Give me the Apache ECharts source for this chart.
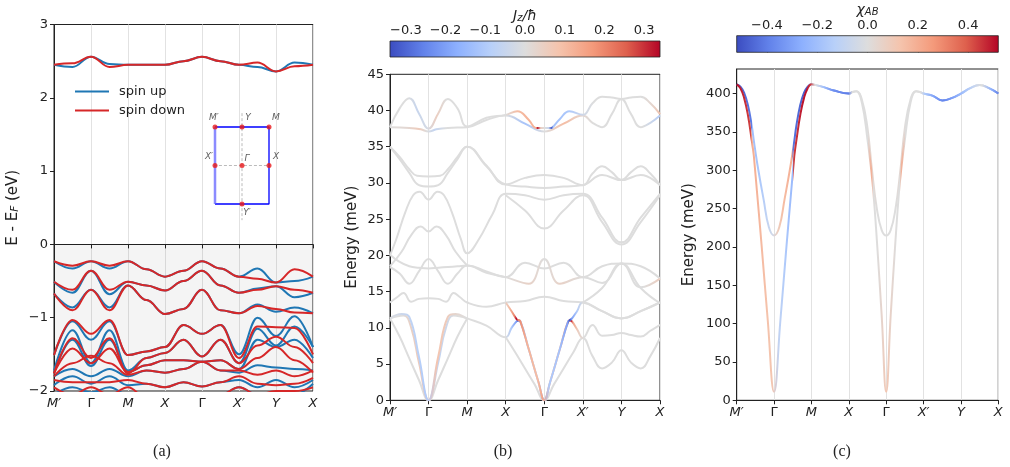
<!DOCTYPE html>
<html><head><meta charset="utf-8">
<script src="https://cdn.jsdelivr.net/npm/echarts@6/dist/echarts.min.js"></script>
<style>html,body{margin:0;padding:0;background:#fff}#c{width:1010px;height:467px}</style>
</head><body><div id="c"></div><script>
// ---------- shared ----------
const kLabels = ['M′','Γ','M','X','Γ','X′','Y','X'];
const aYTicks = [-2,-1,0,1,2,3];
const bYTicks = [0,5,10,15,20,25,30,35,40,45];
const cYTicks = [0,50,100,150,200,250,300,350,400];
const bCbarTicks = [-0.3,-0.2,-0.1,0,0.1,0.2,0.3];
const cCbarTicks = [-0.4,-0.2,0,0.2,0.4];
const bCbarRange = [-0.34,0.34];
const cCbarRange = [-0.52,0.52];

// ---------- panel (a): electronic bands, k = 0..7 in half steps ----------
const aK = [0,0.5,1,1.5,2,2.5,3,3.5,4,4.5,5,5.5,6,6.5,7];
const aUpConduction   = [2.45,2.42,2.56,2.46,2.45,2.45,2.45,2.50,2.56,2.50,2.45,2.42,2.36,2.48,2.45];
const aDownConduction = [2.45,2.47,2.56,2.42,2.45,2.45,2.45,2.50,2.56,2.50,2.45,2.48,2.36,2.43,2.45];
const aUpValence = [
  [-0.23,-0.33,-0.23,-0.33,-0.23,-0.34,-0.44,-0.36,-0.23,-0.33,-0.44,-0.33,-0.52,-0.50,-0.44],
  [-0.51,-0.66,-0.36,-0.68,-0.51,-0.56,-0.63,-0.50,-0.36,-0.56,-0.66,-0.60,-0.57,-0.72,-0.66],
  [-0.67,-0.86,-0.62,-0.86,-0.56,-0.76,-0.95,-0.88,-0.62,-0.90,-0.94,-0.82,-0.92,-0.86,-0.94],
  [-1.51,-1.05,-1.30,-1.05,-1.51,-1.46,-1.40,-1.10,-1.22,-1.10,-1.50,-1.00,-1.25,-0.98,-1.40],
  [-1.72,-1.17,-1.62,-1.17,-1.72,-1.55,-1.48,-1.30,-1.53,-1.30,-1.62,-1.15,-1.38,-1.12,-1.40],
  [-1.76,-1.30,-1.66,-1.30,-1.74,-1.65,-1.58,-1.58,-1.60,-1.58,-1.70,-1.30,-1.40,-1.30,-1.55],
  [-1.80,-1.70,-1.80,-1.70,-1.80,-1.72,-1.75,-1.70,-1.60,-1.72,-1.75,-1.65,-1.68,-1.70,-1.72],
  [-1.92,-1.80,-1.90,-1.80,-1.92,-1.90,-1.95,-1.88,-1.94,-1.88,-1.85,-1.95,-1.85,-1.95,-1.85],
  [-2.05,-1.95,-2.02,-1.95,-2.05,-2.10,-2.10,-2.05,-2.10,-2.05,-1.95,-2.05,-2.05,-2.05,-1.90]
];
const aDownValence = [
  [-0.23,-0.29,-0.23,-0.29,-0.23,-0.34,-0.44,-0.36,-0.23,-0.33,-0.44,-0.47,-0.52,-0.34,-0.44],
  [-0.51,-0.62,-0.36,-0.62,-0.51,-0.56,-0.63,-0.50,-0.36,-0.56,-0.66,-0.62,-0.57,-0.62,-0.66],
  [-0.67,-0.90,-0.62,-0.90,-0.56,-0.76,-0.95,-0.88,-0.62,-0.90,-0.94,-0.84,-0.88,-0.93,-0.94],
  [-1.51,-1.03,-1.22,-1.03,-1.51,-1.46,-1.40,-1.10,-1.22,-1.10,-1.55,-1.12,-1.13,-1.14,-1.50],
  [-1.76,-1.28,-1.55,-1.28,-1.76,-1.55,-1.48,-1.30,-1.53,-1.30,-1.62,-1.38,-1.26,-1.40,-1.62],
  [-1.76,-1.42,-1.62,-1.42,-1.74,-1.65,-1.58,-1.58,-1.60,-1.58,-1.70,-1.55,-1.40,-1.58,-1.75],
  [-1.80,-1.62,-1.52,-1.62,-1.78,-1.72,-1.75,-1.70,-1.60,-1.72,-1.72,-1.78,-1.72,-1.80,-1.72],
  [-1.85,-1.88,-1.88,-1.88,-1.85,-1.90,-1.95,-1.88,-1.94,-1.88,-1.80,-1.90,-1.92,-1.90,-1.82],
  [-1.95,-2.05,-1.95,-2.05,-1.95,-2.10,-2.10,-2.05,-2.10,-2.05,-1.95,-2.05,-2.00,-2.00,-1.95]
];
// Brillouin-zone inset
const bzNames = ['M′','Y','M','X′','Γ','X','Y′'];
const bzCoords = [[-1,1],[0,1],[1,1],[-1,0],[0,0],[1,0],[0,-1]];

// ---------- panel (b): magnon bands [k, E(meV), Jz] ----------
const bGray1 = [[0,11.3],[0.25,8.8],[0.5,5.8],[0.75,2.8],[1,0],[1.25,2.8],[1.5,5.8],[1.75,8.8],[2,11.3]];
const bGray2 = [[3,8.7],[3.25,6.6],[3.5,4.4],[3.75,2.2],[4,0],[4.25,2.2],[4.5,4.4],[4.75,6.6],[5,8.6],[5.25,6.1],[5.5,4.4],[5.75,5.2],[6,6.9],[6.25,5.2],[6.5,4.4],[6.75,6.1],[7,8.6]];
const bE1 = [[0,13.5],[0.2,14.3],[0.35,14.8],[0.55,13.6],[0.75,14.0],[1,14.1],[1.25,14.0],[1.45,13.6],[1.65,14.8],[1.8,14.3],[2,13.5],[2.5,12.9],[3,13.5],[3.5,13.7],[4,14.3],[4.5,13.7],[5,13.5],[5.5,12.3],[6,11.3],[6.5,12.3],[7,13.5]];
const bE2 = [[5,13.5],[5.5,15.5],[6,18.9],[6.5,15.5],[7,13.4]];
const bD1 = [[0,20.1],[0.25,19.1],[0.5,18.5],[0.75,18.3],[1,18.2],[1.25,18.3],[1.5,18.4],[1.75,18.5],[2,18.6],[2.5,17.8],[3,17.0],[3.5,19.0],[4,18.2],[4.5,19.0],[5,17.0],[5.5,18.5],[6,18.9],[6.5,18.5],[7,16.8]];
const bD2 = [[0,18.4],[0.25,17.5],[0.5,16.1],[0.75,17.8],[1,19.5],[1.25,17.8],[1.5,16.1],[1.75,17.5],[2,18.6],[2.5,17.6],[3,17.0],[3.6,16.1,0.04],[4,19.5],[4.4,16.1,0.04],[5,17.0],[5.5,16.2],[6,18.9],[6.5,15.6],[7,16.8,0.06]];
const bC1 = [[0,20.0],[0.16,22.2],[0.4,26.0],[0.6,28.3],[0.77,28.8],[1,27.7],[1.23,28.8],[1.4,28.3],[1.6,26.0],[1.84,22.2],[2,20.3],[2.3,22.2],[2.65,25.6],[3,28.5],[3.5,28.3],[4,27.7],[4.5,28.3],[5,28.5],[5.5,25.2],[6,21.8],[6.5,25.2],[7,28.5]];
const bC2 = [[0,18.5],[0.3,20.5],[0.55,22.8],[0.8,24.0],[1,23.3],[1.2,24.0],[1.45,22.8],[1.7,20.5],[2,18.6]];
const bC3 = [[3,28.3],[3.5,26.2],[4,23.7],[4.5,26.2],[5,28.3],[5.5,24.6],[6,21.5],[6.5,24.6],[7,28.3]];
const bMid1 = [[0,35.0],[0.25,33.6],[0.5,31.9],[0.7,31.0],[1,30.9],[1.3,31.0],[1.5,31.9],[1.75,33.6],[2,35.0],[2.5,32.4],[3,29.8],[3.5,30.7],[4,31.1],[4.5,30.7],[5,29.7],[5.25,31.3],[5.5,32.3],[5.75,31.5],[6,30.4],[6.25,31.5],[6.5,32.3],[6.75,31.3],[7,29.7]];
const bMid2 = [[0,35.0],[0.25,33.3],[0.5,31.4],[0.75,29.7],[1,29.5],[1.25,29.7],[1.5,31.4],[1.75,33.3],[2,35.0],[2.5,32.3],[3,29.8],[3.5,29.5],[4,29.3],[4.5,29.5],[5,29.7],[5.5,31.1],[6,30.4],[6.5,31.1],[7,29.7]];
const bF1 = [[0,11.3],[0.3,11.9,-0.03],[0.5,11.5,-0.06],[0.75,6.0,-0.08],[1,0,-0.1],[1.25,6.0,0.08],[1.5,11.5,0.06],[1.7,11.9,0.03],[2,11.3],[2.5,10.3],[3,8.7],[3.15,10.0,-0.1],[3.28,10.9,-0.2],[3.33,11.0,-0.34],[3.38,10.9,-0.18],[3.6,7.0,-0.12],[3.85,2.5,-0.12],[4,0,-0.2],[4.15,2.5,0.12],[4.4,7.0,0.12],[4.62,10.9,0.2],[4.67,11.0,0.34],[4.72,10.9,0.15],[4.85,9.8,0.05],[5,8.6],[5.25,10.4],[5.5,8.9],[5.75,9.0],[6,9.3],[6.25,9.0],[6.5,8.8],[6.75,9.6],[7,10.4]];
const bF2 = [[0,11.3],[0.35,11.7],[0.55,10.0,0.04],[0.75,5.2,0.06],[1,0,0.08],[1.25,5.2,-0.06],[1.45,10.0,-0.04],[1.65,11.7],[2,11.3]];
const bF3 = [[3,13.5],[3.15,12.3,0.1],[3.28,11.2,0.2],[3.33,11.1,0.34],[3.38,10.9,0.2],[3.6,7.0,0.12],[3.85,2.5,0.1],[4,0,0.15],[4.15,2.5,-0.1],[4.4,7.0,-0.12],[4.62,10.9,-0.2],[4.67,11.1,-0.34],[4.72,11.3,-0.2],[4.85,12.3,-0.1],[5,13.5],[5.5,12.3],[6,11.3],[6.5,12.3],[7,13.5]];
const bTop1 = [[0,37.7],[0.25,40.3],[0.5,41.7],[0.75,39.6,-0.05],[1,37.5,-0.02],[1.25,39.6,0.05],[1.5,41.6],[1.75,40.3],[2,37.8],[2.5,39.0],[3,39.4],[3.3,39.9,0.1],[3.6,38.7,0.12],[3.78,37.6,0.12],[3.82,37.6,0.32],[3.9,37.6,0.05],[4,37.6,0],[4.1,37.6,-0.05],[4.18,37.6,-0.32],[4.22,37.7,-0.12],[4.4,38.8,-0.12],[4.65,39.9,-0.1],[5,39.4,-0.03],[5.25,41.0],[5.5,41.9],[5.75,41.8],[6,41.6],[6.25,41.8],[6.5,41.9],[6.75,41.0,0.03],[7,39.5,0.1]];
const bTop2 = [[0,37.7],[0.5,37.6,0.02],[0.8,37.4,0.06],[1,37.1],[1.2,37.4,-0.06],[1.5,37.6],[2,37.7],[2.5,38.7],[3,39.3],[3.5,38.2,-0.12],[4,37.1,0],[4.5,38.2,0.1],[5,39.3,0.02],[5.25,38.3],[5.5,37.7],[5.75,39.5],[6,41.6],[6.25,39.5],[6.5,37.7],[6.75,38.3,-0.05],[7,39.3,-0.1]];
const bBands = [bGray1,bGray2,bE1,bE2,bD1,bD2,bC1,bC2,bC3,bMid1,bMid2,bF2,bF1,bF3,bTop2,bTop1];

// ---------- panel (c): [k, E(meV), chi_AB] ----------
const cInner = [[0,412,-0.48],[0.1,409,-0.48],[0.2,401,-0.46],[0.3,385,-0.44],[0.4,359,-0.42],[0.46,338,-0.4],[0.48,331,-0.2],[0.58,300,-0.18],[0.72,262,-0.15],[0.86,226,-0.1],[1,215,-0.05],[1.14,226,0.08],[1.28,262,0.15],[1.42,300,0.18],[1.52,331,0.2],[1.54,338,-0.42],[1.6,359,-0.44],[1.7,385,-0.45],[1.8,401,-0.47],[1.9,409,-0.48],[2,412,-0.3],[2.12,411,0],[2.35,408,-0.2],[2.6,404,-0.35],[3,400,-0.4],[3.1,402,0],[3.2,403,0],[3.35,392,0],[3.5,355,0],[3.62,300,0.05],[3.75,250,0],[3.88,222,0],[4,215,0],[4.12,222,0],[4.25,250,0],[4.38,300,0.05],[4.5,355,0],[4.65,392,0],[4.8,403,0],[4.9,402,0],[5,400,-0.15],[5.25,397,-0.3],[5.5,391,-0.38],[5.75,394,-0.3],[6,400,-0.2],[6.25,407,-0.1],[6.5,411,0],[6.75,407,-0.25],[7,400,-0.42]];
const cOuter = [[0,412,0.5],[0.1,407,0.5],[0.2,394,0.48],[0.3,372,0.46],[0.4,340,0.44],[0.44,326,0.42],[0.46,318,0.2],[0.55,268,0.19],[0.67,200,0.17],[0.83,105,0.14],[1,11,0.12],[1.17,105,-0.1],[1.33,200,-0.15],[1.45,268,-0.2],[1.54,318,-0.22],[1.56,326,0.44],[1.6,340,0.45],[1.7,372,0.47],[1.8,394,0.5],[1.9,407,0.5],[2,412,0.45],[2.12,411,0],[2.35,408,-0.2],[2.6,404,-0.35],[3,400,-0.4],[3.1,402,0],[3.2,403,0],[3.35,388,0],[3.5,340,0],[3.6,300,0.2],[3.66,270,0],[3.75,209,0],[3.88,110,0.05],[4,11,0.12],[4.12,110,0.05],[4.25,209,0],[4.34,270,0],[4.4,300,0.2],[4.5,340,0],[4.65,388,0],[4.8,403,0],[4.9,402,0],[5,400,-0.15],[5.25,397,-0.3],[5.5,391,-0.38],[5.75,394,-0.3],[6,400,-0.2],[6.25,407,-0.1],[6.5,411,0],[6.75,407,-0.25],[7,400,-0.42]];
const cBands = [cInner, cOuter];

// ---------- helpers ----------
const CW = [[59,76,192],[98,130,234],[141,176,254],[184,208,249],[221,221,221],[245,196,173],[244,154,123],[222,96,77],[180,4,38]];
function cw(t){ t=Math.max(0,Math.min(1,t)); const f=t*8; const i=Math.min(7,Math.floor(f)); const r=f-i; const a=CW[i], b=CW[i+1];
  return 'rgb('+a.map((v,j)=>Math.round(v+(b[j]-v)*r)).join(',')+')'; }
function cval(c, vmax){ return cw((c+vmax)/(2*vmax)); }
function bandLine(pts, gi, vmax){
  const k0 = pts[0][0], k1 = pts[pts.length-1][0];
  const colored = pts.some(p => p[2]);
  const color = colored ? new echarts.graphic.LinearGradient(0,0,1,0,
      pts.map(p => ({offset:(p[0]-k0)/(k1-k0), color: cval(p[2]||0, vmax)}))) : cval(0, vmax);
  return {type:'line', xAxisIndex:gi, yAxisIndex:gi, data: pts.map(p=>[p[0],p[1]]), smooth:0.45,
    symbol:'none', lineStyle:{color, width:2}, z: colored?3:2, silent:true};
}
const INK = '#222';
const FONT = 'DejaVu Sans';
const minus = s => String(s).replace('-', '−');
function kAxis(gi){
  return {type:'value', gridIndex:gi, min:0, max:7, interval:1,
    axisLine:{lineStyle:{color:INK}}, axisTick:{length:4, lineStyle:{color:INK}},
    splitLine:{show:true, lineStyle:{color:'#e2e2e2', width:1}},
    axisLabel:{margin:6, formatter: v => { const s = kLabels[Math.round(v)]; return s==='Γ' ? '{u|Γ}' : '{i|'+s+'}'; },
      rich:{i:{fontStyle:'italic', fontSize:13, color:INK, fontFamily:FONT}, u:{fontSize:13, color:INK, fontFamily:FONT}}}};
}
function eAxis(gi, min, max, ticks, name, gap, rich){
  return {type:'value', gridIndex:gi, min, max, splitLine:{show:false},
    axisLine:{lineStyle:{color:INK}}, axisTick:{length:4, lineStyle:{color:INK}, customValues:ticks},
    axisLabel:{margin:6, fontSize:13, color:INK, fontFamily:FONT, formatter: v => minus(v), customValues:ticks},
    name, nameLocation:'middle', nameGap:gap, nameTextStyle: rich ? {rich} : {fontSize:15, color:INK, fontFamily:FONT}};
}
function cbarAxis(gi, range, ticks, name, rich){
  return {type:'value', gridIndex:gi, position:'top', min:range[0], max:range[1],
    axisLine:{show:false}, splitLine:{show:false},
    axisTick:{customValues:ticks, length:3.5, lineStyle:{color:INK}},
    axisLabel:{customValues:ticks, margin:4, fontSize:13, color:INK, fontFamily:FONT,
      formatter: v => minus(Math.abs(v)<1e-9 ? '0.0' : v.toFixed(1))},
    name, nameLocation:'middle', nameGap:16, nameTextStyle:{rich}};
}
function cbarSeries(gi, range){
  return {type:'custom', xAxisIndex:gi, yAxisIndex:gi, silent:true, data:[[range[0], range[1]]],
    renderItem:(params, api) => {
      const p0 = api.coord([api.value(0), 1]), p1 = api.coord([api.value(1), 0]);
      return {type:'rect', shape:{x:p0[0], y:p0[1], width:p1[0]-p0[0], height:p1[1]-p0[1]},
        style:{fill:new echarts.graphic.LinearGradient(0,0,1,0, CW.map((c,i)=>({offset:i/8, color:'rgb('+c.join(',')+')'}))),
          stroke:INK, lineWidth:0.8}};
    }};
}
const mathRich = {
  i:{fontStyle:'italic', fontSize:14, color:INK, fontFamily:FONT, lineHeight:16, verticalAlign:'bottom'},
  s:{fontStyle:'italic', fontSize:10, color:INK, fontFamily:FONT, lineHeight:11, verticalAlign:'bottom'}
};
const nameRich = {
  n:{fontSize:15, color:INK, fontFamily:FONT, lineHeight:18, verticalAlign:'bottom'},
  s:{fontStyle:'italic', fontSize:10.5, color:INK, fontFamily:FONT, lineHeight:12, verticalAlign:'bottom'}
};

// ---------- series ----------
const series = [];
series.push({type:'line', xAxisIndex:0, yAxisIndex:0, data:[[0,-2],[7,-2]], symbol:'none', lineStyle:{opacity:0}, silent:true, z:1,
  markArea:{silent:true, itemStyle:{color:'rgba(0,0,0,0.045)'}, data:[[{coord:[0,-2]},{coord:[7,0]}]]},
  markLine:{silent:true, symbol:['none','none'], label:{show:false}, lineStyle:{type:[4,2], color:INK, width:1}, data:[{yAxis:0}]}});
const upStyle = {color:'#1f77b4', width:2}, downStyle = {color:'#d62728', width:2};
[aUpConduction, ...aUpValence].forEach(b => series.push({type:'line', name:'spin up', xAxisIndex:0, yAxisIndex:0,
  data:aK.map((k,i)=>[k,b[i]]), smooth:0.4, smoothMonotone:'x', symbol:'none', lineStyle:upStyle, itemStyle:{color:'#1f77b4'}, silent:true, z:2}));
[aDownConduction, ...aDownValence].forEach(b => series.push({type:'line', name:'spin down', xAxisIndex:0, yAxisIndex:0,
  data:aK.map((k,i)=>[k,b[i]]), smooth:0.4, smoothMonotone:'x', symbol:'none', lineStyle:downStyle, itemStyle:{color:'#d62728'}, silent:true, z:3}));
// inset
series.push({type:'line', xAxisIndex:5, yAxisIndex:5, data:[[-1.41,0],[1.41,0]], symbol:'none', clip:false, silent:true, lineStyle:{color:'#bbbbbb', type:[3,2], width:1}, z:5});
series.push({type:'line', xAxisIndex:5, yAxisIndex:5, data:[[0,1.36],[0,-1.42]], symbol:'none', clip:false, silent:true, lineStyle:{color:'#bbbbbb', type:[3,2], width:1}, z:5});
series.push({type:'line', xAxisIndex:5, yAxisIndex:5, data:[[-1,1],[1,1],[1,-1],[-1,-1]], symbol:'none', clip:false, silent:true, lineStyle:{color:'#0000ff', width:1.3}, z:6});
series.push({type:'line', xAxisIndex:5, yAxisIndex:5, data:[[-1,1],[-1,-1]], symbol:'none', clip:false, silent:true, lineStyle:{color:'rgba(90,90,255,0.7)', width:2.5}, z:6});
const bzOffsets = [[-1,0],[6,0],[7,0],[-6,0],[5,2],[7,0],[5,0]];
series.push({type:'scatter', xAxisIndex:5, yAxisIndex:5, clip:false, silent:true, symbolSize:5, z:7,
  itemStyle:{color:'#e8191c'},
  data: bzCoords.map((c,i)=>({value:c, name:bzNames[i],
    label:{show:true, formatter:bzNames[i], position: i===6?'bottom':'top', distance:2, offset:bzOffsets[i],
      fontSize:9, fontStyle:'italic', color:'#333', fontFamily:FONT}}))});
bBands.forEach(b => series.push(bandLine(b, 1, bCbarRange[1])));
cBands.forEach(b => series.push(bandLine(b, 2, cCbarRange[1])));
series.push(cbarSeries(3, bCbarRange));
series.push(cbarSeries(4, cCbarRange));

const option = {
  animation:false,
  backgroundColor:'#fff',
  textStyle:{fontFamily:FONT},
  legend:{data:['spin up','spin down'], orient:'vertical', left:70, top:79, icon:'rect', itemWidth:34, itemHeight:2.2, itemGap:4,
    textStyle:{fontSize:13, color:INK, fontFamily:FONT, padding:[0,0,0,5], lineHeight:15}, selectedMode:false},
  grid:[
    {left:54, top:24.5, width:259, height:366.5, show:true, borderColor:INK, borderWidth:1},
    {left:390, top:74.3, width:270, height:326, show:true, borderColor:INK, borderWidth:1},
    {left:736.7, top:69, width:261.6, height:331.3, show:true, borderColor:INK, borderWidth:1},
    {left:390, top:41, width:270, height:16},
    {left:736.7, top:35.7, width:261.6, height:16.6},
    {left:215, top:127, width:54, height:77}
  ],
  xAxis:[kAxis(0), kAxis(1), kAxis(2),
    cbarAxis(3, bCbarRange, bCbarTicks, '{i|J}{s|z}{i|/ħ}', mathRich),
    cbarAxis(4, cCbarRange, cCbarTicks, '{i|χ}{s|AB}', mathRich),
    {type:'value', gridIndex:5, min:-1, max:1, show:false}],
  yAxis:[
    eAxis(0, -2, 3, aYTicks, '{n|E - E}{s|F}{n| (eV)}', 33, nameRich),
    eAxis(1, 0, 45, bYTicks, 'Energy (meV)', 30),
    eAxis(2, 0, 432, cYTicks, 'Energy (meV)', 40),
    {type:'value', gridIndex:3, min:0, max:1, show:false},
    {type:'value', gridIndex:4, min:0, max:1, show:false},
    {type:'value', gridIndex:5, min:-1, max:1, show:false}],
  graphic:[
    {type:'text', x:162, y:452, style:{text:'(a)', font:'16px "Liberation Serif"', fill:INK, textAlign:'center', textVerticalAlign:'middle'}},
    {type:'text', x:503, y:452, style:{text:'(b)', font:'16px "Liberation Serif"', fill:INK, textAlign:'center', textVerticalAlign:'middle'}},
    {type:'text', x:842, y:452, style:{text:'(c)', font:'16px "Liberation Serif"', fill:INK, textAlign:'center', textVerticalAlign:'middle'}}
  ],
  series
};
const chart = echarts.init(document.getElementById('c'), null, {renderer:'canvas'});
chart.setOption(option);
</script></body></html>
